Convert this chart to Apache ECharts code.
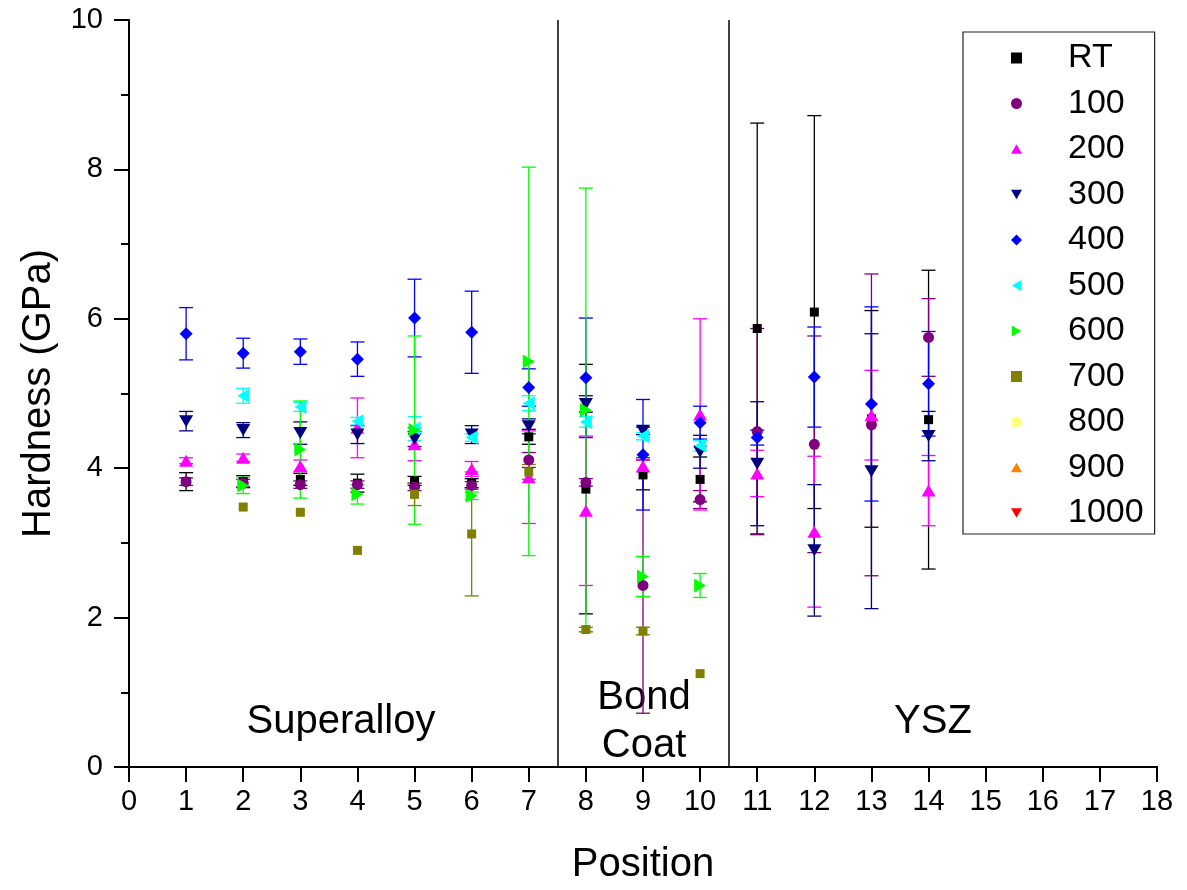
<!DOCTYPE html>
<html style="height: 100%">
<head>
<meta charset="utf-8">
<script src="https://cdn.jsdelivr.net/npm/echarts@6/dist/echarts.min.js"></script>
</head>
<body style="height: 100%; margin: 0; background: #fff">
<div id="container" style="width: 1187px; height: 890px"></div>
<script type="text/javascript">
// measurement positions across the coating
var positions = [1, 2, 3, 4, 5, 6, 7, 8, 9, 10, 11, 12, 13, 14];
var temps = ['RT', '100', '200', '300', '400', '500', '600', '700', '800', '900', '1000'];

// mean hardness (GPa) per temperature, one entry per position
var meanRT  = [3.82, 3.82, 3.85, 3.80, 3.83, 3.80, 4.42, 3.72, 3.91, 3.85, 5.87, 6.09, 4.66, 4.65];
var mean100 = [3.82, 3.80, 3.78, 3.78, 3.75, 3.77, 4.11, 3.81, 2.43, 3.58, 4.49, 4.32, 4.58, 5.75];
var mean200 = [4.10, 4.14, 4.03, 4.54, 4.32, 3.99, 3.88, 3.43, 4.03, 4.72, 3.93, 3.15, 4.71, 3.70];
var mean300 = [4.63, 4.51, 4.47, 4.45, 4.39, 4.45, 4.56, 4.86, 4.50, 4.22, 4.06, 2.90, 3.96, 4.43];
var mean400 = [5.80, 5.54, 5.56, 5.46, 6.01, 5.82, 5.08, 5.21, 4.18, 4.61, 4.41, 5.22, 4.86, 5.13];
var mean500 = [null, 4.97, 4.82, 4.63, 4.53, 4.41, 4.87, 4.62, 4.43, 4.30];
var mean600 = [null, 3.77, 4.25, 3.65, 4.51, 3.63, 5.43, 4.78, 2.55, 2.43];
var mean700 = [null, 3.48, 3.41, 2.90, 3.65, 3.12, 3.95, 1.84, 1.82, 1.25];
var mean800 = [];
var mean900 = [];
var mean1000 = [];

// standard deviation (GPa)
var errRT  = [0.12, 0.08, 0.08, 0.12, 0.06, 0.06, 0.10, 1.67, 0.20, 0.30, 2.75, 2.63, 1.45, 2.00];
var err100 = [0.05, 0.05, 0.05, 0.05, 0.05, 0.05, 0.10, 0.05, 1.71, 0.12, 1.38, 1.45, 2.02, 0.52];
var err200 = [0.04, 0.05, 0.08, 0.40, 0.22, 0.10, 0.62, 1.00, 0.08, 1.28, 0.31, 1.01, 0.60, 0.47];
var err300 = [0.13, 0.10, 0.15, 0.12, 0.10, 0.12, 0.10, 0.11, 0.05, 0.22, 0.83, 0.88, 1.84, 0.33];
var err400 = [0.35, 0.20, 0.17, 0.23, 0.52, 0.55, 0.25, 0.80, 0.74, 0.22, 0.10, 0.67, 1.30, 0.70];
var err500 = [null, 0.10, 0.06, 0.05, 0.16, 0.05, 0.10, 0.07, 0.05, 0.07];
var err600 = [null, 0.11, 0.65, 0.13, 1.26, 0.05, 2.60, 2.97, 0.27, 0.16];
var err700 = [null, 0, 0, 0, 0.15, 0.83, 0.10, 0.03, 0.05, 0];
var err800 = [];
var err900 = [];
var err1000 = [];

var means = [meanRT, mean100, mean200, mean300, mean400, mean500, mean600, mean700, mean800, mean900, mean1000];
var errs = [errRT, err100, err200, err300, err400, err500, err600, err700, err800, err900, err1000];

// regions of the sample
var regionNames = ['Superalloy', 'Bond\nCoat', 'YSZ'];
var regionBounds = [7.5, 10.5];

// marker styles
var TRI_UP = 'path://M1,0 L2,1.7 L0,1.7 Z';
var TRI_DOWN = 'path://M0,0 L2,0 L1,1.7 Z';
var TRI_LEFT = 'path://M1.7,0 L1.7,2 L0,1 Z';
var TRI_RIGHT = 'path://M0,0 L1.7,1 L0,2 Z';
var colors = ['#000000', '#800080', '#ff00ff', '#000080', '#0000ff', '#00ffff', '#00ff00', '#808000', '#ffff80', '#ff8000', '#ff0000'];
var symbols = ['rect', 'circle', TRI_UP, TRI_DOWN, 'diamond', TRI_LEFT, TRI_RIGHT, 'rect', 'circle', TRI_UP, TRI_DOWN];
var sizes = [[9, 9], [11, 11], [14, 12], [14, 12], [13, 13], [12, 14], [12, 14], [9, 9], [11, 11], [14, 12], [14, 12]];

var FONT = '"Liberation Sans", Arial, sans-serif';

var dom = document.getElementById('container');
var myChart = echarts.init(dom);

function errorBar(color) {
    return function (params, api) {
        var e = api.value(2);
        if (!e) return;
        var x = api.value(0), m = api.value(1);
        var top = api.coord([x, m + e]);
        var bot = api.coord([x, m - e]);
        var hw = 7;
        var st = { stroke: color, lineWidth: 1.3 };
        return {
            type: 'group',
            children: [
                { type: 'line', shape: { x1: top[0], y1: top[1], x2: bot[0], y2: bot[1] }, style: st },
                { type: 'line', shape: { x1: top[0] - hw, y1: top[1], x2: top[0] + hw, y2: top[1] }, style: st },
                { type: 'line', shape: { x1: bot[0] - hw, y1: bot[1], x2: bot[0] + hw, y2: bot[1] }, style: st }
            ]
        };
    };
}

var series = [];
temps.forEach(function (t, i) {
    var pts = [], bars = [];
    means[i].forEach(function (m, j) {
        if (m == null) return;
        pts.push([positions[j], m]);
        bars.push([positions[j], m, errs[i][j]]);
    });
    series.push({
        name: t + ' err',
        type: 'custom',
        renderItem: errorBar(colors[i]),
        encode: { x: 0, y: 1 },
        data: bars,
        silent: true
    });
    var s = {
        name: t,
        type: 'scatter',
        symbol: symbols[i],
        symbolSize: sizes[i],
        itemStyle: { color: colors[i], opacity: 1 },
        data: pts
    };
    if (i === 0) {
        s.markLine = {
            silent: true,
            symbol: ['none', 'none'],
            label: { show: false },
            lineStyle: { color: '#000', width: 1.5, type: 'solid' },
            data: regionBounds.map(function (b) { return { xAxis: b }; })
        };
    }
    series.push(s);
});

option = {
    animation: false,
    grid: { left: 129, right: 30, top: 20, bottom: 119 },
    legend: {
        data: temps,
        orient: 'vertical',
        left: 963,
        top: 32,
        padding: [9, 11, 4, 48],
        itemWidth: 11,
        itemHeight: 11,
        itemGap: 11.5,
        borderColor: '#222',
        borderWidth: 1.2,
        backgroundColor: '#fff',
        textStyle: { fontSize: 34, lineHeight: 34, fontFamily: FONT, color: '#000', padding: [0, 0, 0, 41] }
    },
    xAxis: [{
        type: 'value', min: 0, max: 18, interval: 1,
        name: 'Position', nameLocation: 'middle', nameGap: 78,
        nameTextStyle: { fontSize: 40, fontFamily: FONT, color: '#000' },
        axisLine: { lineStyle: { color: '#000', width: 2 } },
        axisTick: { length: 15, lineStyle: { color: '#000', width: 2 } },
        axisLabel: { fontSize: 29, fontFamily: FONT, color: '#000', margin: 20 },
        splitLine: { show: false }
    }, {
        type: 'value', min: 0, max: 18, interval: 1, position: 'top',
        axisLine: { lineStyle: { color: '#000', width: 2 } },
        axisTick: { inside: true, length: 15, lineStyle: { color: '#000', width: 2 } },
        axisLabel: { show: false },
        splitLine: { show: false }
    }],
    yAxis: [{
        type: 'value', min: 0, max: 10, interval: 2,
        name: 'Hardness (GPa)', nameLocation: 'middle', nameGap: 70,
        nameTextStyle: { fontSize: 40, fontFamily: FONT, color: '#000' },
        axisLine: { show: true, lineStyle: { color: '#000', width: 2 } },
        axisTick: { show: true, length: 15, lineStyle: { color: '#000', width: 2 } },
        minorTick: { show: true, splitNumber: 2, length: 8, lineStyle: { color: '#000', width: 2 } },
        axisLabel: { fontSize: 29, fontFamily: FONT, color: '#000', margin: 26 },
        splitLine: { show: false }
    }, {
        type: 'value', min: 0, max: 10, interval: 2, position: 'right',
        axisLine: { show: true, lineStyle: { color: '#000', width: 2 } },
        axisTick: { show: true, inside: true, length: 15, lineStyle: { color: '#000', width: 2 } },
        minorTick: { show: true, splitNumber: 2, length: 8, lineStyle: { color: '#000', width: 2 } },
        axisLabel: { show: false },
        splitLine: { show: false }
    }],
    graphic: [
        { type: 'text', x: 341, y: 722, style: { text: regionNames[0], font: '40px ' + FONT, fill: '#000', align: 'center', verticalAlign: 'middle' } },
        { type: 'text', x: 644, y: 722, style: { text: regionNames[1], font: '40px ' + FONT, lineHeight: 48, fill: '#000', align: 'center', verticalAlign: 'middle' } },
        { type: 'text', x: 933, y: 722, style: { text: regionNames[2], font: '40px ' + FONT, fill: '#000', align: 'center', verticalAlign: 'middle' } }
    ],
    series: series
};

myChart.setOption(option, true);
</script>
</body>
</html>
